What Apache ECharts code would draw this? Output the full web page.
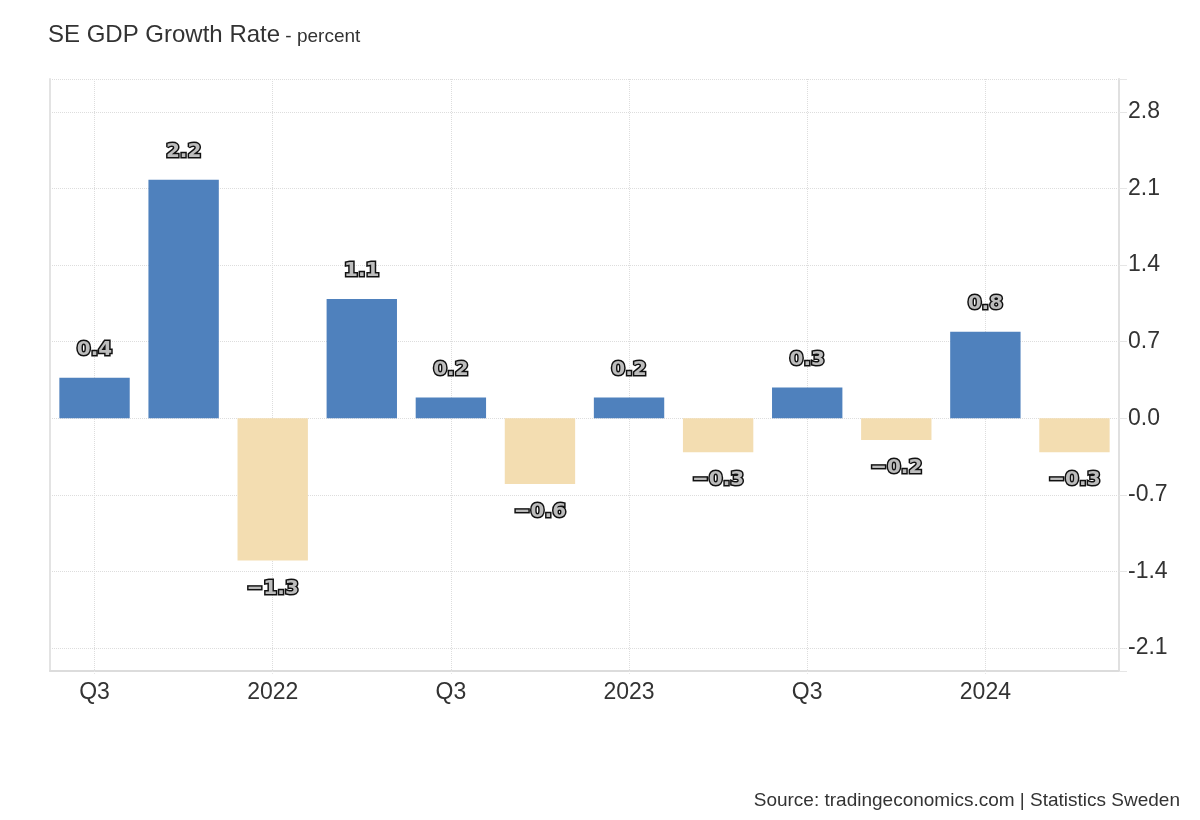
<!DOCTYPE html>
<html>
<head>
<meta charset="utf-8">
<script src="https://cdn.jsdelivr.net/npm/echarts@6/dist/echarts.min.js"></script>
<style>
html,body{margin:0;padding:0;background:#fff;}
#chart{width:1200px;height:820px;}
</style>
</head>
<body>
<div id="chart"></div>
<script>
const categories = ['Q3','Q4','2022','Q2','Q3','Q4','2023','Q2','Q3','Q4','2024','Q2'];
const values = [0.37, 2.18, -1.3, 1.09, 0.19, -0.6, 0.19, -0.31, 0.28, -0.2, 0.79, -0.31];
const yTickLabels = [-2.1, -1.4, -0.7, 0, 0.7, 1.4, 2.1, 2.8];
const yMin = -2.31, yMax = 3.10;

const FONT = "'Liberation Sans', Arial, sans-serif";
const LABEL_FONT = "'DejaVu Sans', Verdana, sans-serif";
const POS = '#4f81bd', NEG = '#f3ddb1';

const data = values.map(v => ({
  value: v,
  itemStyle: { color: v >= 0 ? POS : NEG },
  label: { position: v >= 0 ? 'top' : 'bottom', distance: 18 }
}));

const chart = echarts.init(document.getElementById('chart'), null, {renderer: 'canvas'});
chart.setOption({
  animation: false,
  backgroundColor: '#fff',
  textStyle: { fontFamily: FONT },
  title: [{
    left: 43, top: 18,
    text: '{a|SE GDP Growth Rate}{b| - percent}',
    textStyle: {
      rich: {
        a: { fontSize: 24, fontWeight: 'normal', color: '#333', fontFamily: FONT },
        b: { fontSize: 19, fontWeight: 'normal', color: '#333', fontFamily: FONT, padding: [4, 0, 0, 0] }
      }
    }
  }, {
    right: 15, top: 786,
    text: 'Source: tradingeconomics.com | Statistics Sweden',
    textStyle: { fontSize: 19, fontWeight: 'normal', color: '#333', fontFamily: FONT }
  }],
  grid: { left: 50, right: 81, top: 79, bottom: 149, containLabel: false },
  xAxis: {
    type: 'category',
    data: categories,
    boundaryGap: true,
    axisLine: { show: true, onZero: false, lineStyle: { color: '#dcdcdc', width: 2 } },
    axisTick: { show: true, interval: 1, alignWithLabel: true, length: 3, lineStyle: { color: '#e6e6e6', type: 'dotted' } },
    axisLabel: { interval: 1, fontSize: 23, color: '#333', margin: 10, fontFamily: FONT },
    splitLine: { show: true, interval: 1, alignWithLabel: true, lineStyle: { color: '#dddddd', type: 'dotted', width: 1 } }
  },
  yAxis: [{
    type: 'value',
    position: 'right',
    min: yMin, max: yMax,
    axisLine: { show: true, lineStyle: { color: '#e0e0e0', width: 2 } },
    axisTick: { show: true, length: 8, customValues: [yMin].concat(yTickLabels, [yMax]), lineStyle: { color: '#e6e6e6' } },
    axisLabel: { customValues: yTickLabels, fontSize: 23, color: '#333', margin: 9, fontFamily: FONT,
      formatter: v => v.toFixed(1) },
    splitLine: { show: true, lineStyle: { color: '#dddddd', type: 'dotted', width: 1 } }
  }, {
    type: 'value',
    position: 'left',
    min: yMin, max: yMax,
    axisLine: { show: true, lineStyle: { color: '#e3e3e3', width: 2 } },
    axisTick: { show: false },
    axisLabel: { show: false },
    splitLine: { show: false }
  }],
  series: [{
    type: 'bar',
    yAxisIndex: 0,
    data: data,
    barWidth: '79%',
    label: {
      show: true,
      fontSize: 20,
      fontWeight: 'bold',
      fontFamily: LABEL_FONT,
      color: '#bdbdbd',
      textBorderColor: '#111',
      textBorderWidth: 3,
      formatter: p => (p.value < 0 ? '\u2212' : '') + Math.abs(p.value).toFixed(1)
    }
  }]
});
</script>
</body>
</html>
